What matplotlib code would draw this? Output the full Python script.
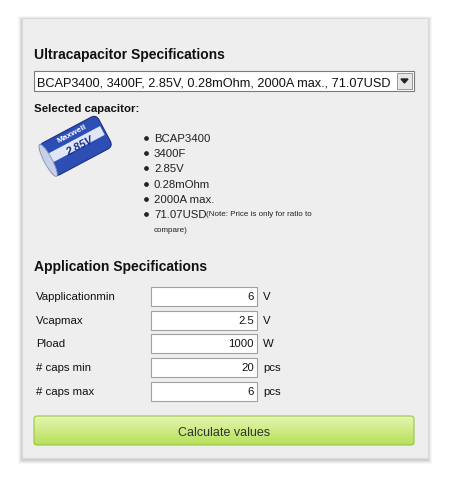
import numpy as np
import matplotlib.pyplot as plt
from matplotlib.patches import Rectangle, FancyBboxPatch, Ellipse, Polygon
import matplotlib.transforms as mtransforms

plt.rcParams['font.family'] = ['Liberation Sans', 'DejaVu Sans']

dropdown_text = "BCAP3400, 3400F, 2.85V, 0.28mOhm, 2000A max., 71.07USD"
specs = ["BCAP3400", "3400F", "2.85V", "0.28mOhm", "2000A max.", "71.07USD"]
price_note = "(Note: Price is only for ratio to"
field_labels = ["Vapplicationmin", "Vcapmax", "Pload", "# caps min", "# caps max"]
field_values = ["6", "2.5", "1000", "20", "6"]
field_units = ["V", "V", "W", "pcs", "pcs"]

fig = plt.figure(figsize=(4.49, 4.83), dpi=100)
ax = fig.add_axes([0, 0, 1, 1])
ax.set_xlim(0, 449)
ax.set_ylim(483, 0)
ax.axis("off")
VA = "center_baseline"

# panel shadow + panel
for i, a in enumerate([0.03, 0.04, 0.05, 0.07]):
    d = 4 - i
    ax.add_patch(Rectangle((22 - d, 18 - d + 2), 406 + 2 * d, 440 + 2 * d,
                           color="black", alpha=a, lw=0))
ax.add_patch(Rectangle((22, 18), 406, 440, facecolor="#eeeeee", edgecolor="#dadada", lw=0.8))

ax.text(34, 54, "Ultracapacitor Specifications", fontsize=10, fontweight="bold",
        color="#111111", va=VA)

# dropdown
ax.add_patch(Rectangle((34, 71), 380, 20, facecolor="white", edgecolor="#7a7a7a", lw=0.8))
ax.text(37, 81.5, dropdown_text, fontsize=9.2, va=VA, color="#111111")
ax.add_patch(Rectangle((397, 73), 15, 16, facecolor="#e6e6e6", edgecolor="#8a8a8a", lw=0.6))
ax.add_patch(Polygon([[401, 79], [408, 79], [404.5, 83]], color="#222222"))

ax.text(34, 108, "Selected capacitor:", fontsize=8.2, fontweight="bold", va=VA,
        color="#111111")

# capacitor image (rough)
tr = mtransforms.Affine2D().rotate_deg_around(75, 145, -28) + ax.transData
body = FancyBboxPatch((42, 128), 66, 36, boxstyle="round,pad=0,rounding_size=6",
                      facecolor="#2d4fb5", edgecolor="#1c2f80", lw=0.8, transform=tr)
ax.add_patch(body)
ax.add_patch(Rectangle((46, 140), 60, 10, facecolor="#dfe6f7", lw=0, transform=tr))
ax.add_patch(Ellipse((44, 146), 8, 36, facecolor="#c8d0e6", edgecolor="#8090c0", lw=0.6,
                     transform=tr))
ax.text(72, 134, "Maxwell", fontsize=6, color="white", fontweight="bold", ha="center",
        va="center", rotation=28)
ax.text(80, 146, "2.85V", fontsize=8, color="#1c2f80", fontweight="bold", style="italic",
        ha="center", va="center", rotation=28)

# bullets
ys = [138, 153, 168, 184, 199, 214]
for y, s in zip(ys, specs):
    ax.plot(146, y, "o", ms=2.4, color="#222222")
    ax.text(154, y, s, fontsize=8.2, va=VA, color="#222222")
ax.text(206, 214, price_note, fontsize=5.8, va=VA, color="#222222")
ax.text(154, 229.5, "compare)", fontsize=5.8, va=VA, color="#222222")

ax.text(34, 266, "Application Specifications", fontsize=10, fontweight="bold",
        color="#111111", va=VA)

row_y = [296, 320, 343, 367, 391]
for y, lab, val, unit in zip(row_y, field_labels, field_values, field_units):
    ax.text(36, y, lab, fontsize=8.2, va=VA, color="#111111")
    ax.add_patch(Rectangle((151, y - 9.5), 106, 19, facecolor="white", edgecolor="#a0a0a0",
                           lw=0.8))
    ax.text(254, y, val, fontsize=8.2, va=VA, ha="right", color="#111111")
    ax.text(263, y, unit, fontsize=8.2, va=VA, color="#111111")

# button with gradient
grad = np.linspace(0, 1, 64).reshape(-1, 1)
ax.imshow(grad, extent=(34, 414, 445, 416), cmap=plt.matplotlib.colors.LinearSegmentedColormap
          .from_list("g", ["#e6f5b0", "#b5e05a"]), aspect="auto", zorder=2)
ax.add_patch(FancyBboxPatch((34, 416), 380, 29, boxstyle="round,pad=0,rounding_size=3",
                            facecolor="none", edgecolor="#9cc64a", lw=0.8, zorder=3))
ax.text(224, 431, "Calculate values", fontsize=9, ha="center", va=VA,
        color="#333333", zorder=4)
ax.set_xlim(0, 449)
ax.set_ylim(483, 0)

fig.savefig("out.png", dpi=100, facecolor="white")
